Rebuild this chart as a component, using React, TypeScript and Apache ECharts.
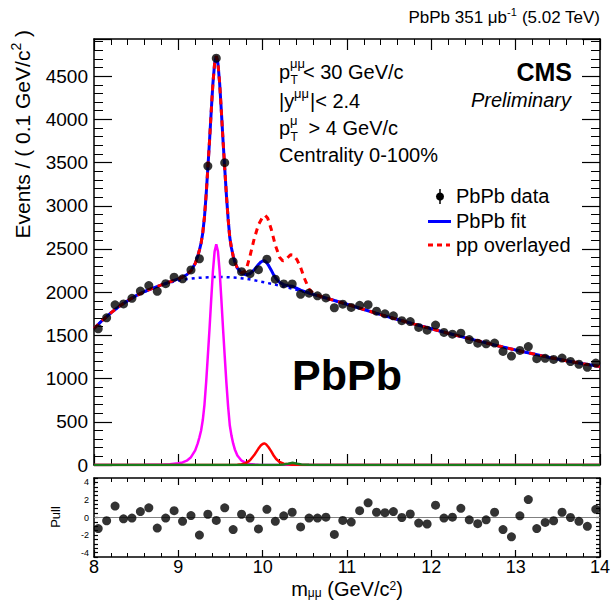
import React, { useEffect, useRef } from "react";
import * as echarts from "echarts";

// ---------------- data ----------------
const massBins = [
  8.05, 8.15, 8.25, 8.35, 8.45, 8.55, 8.65, 8.75, 8.85, 8.95,
  9.05, 9.15, 9.25, 9.35, 9.45, 9.55, 9.65, 9.75, 9.85, 9.95,
  10.05, 10.15, 10.25, 10.35, 10.45, 10.55, 10.65, 10.75, 10.85, 10.95,
  11.05, 11.15, 11.25, 11.35, 11.45, 11.55, 11.65, 11.75, 11.85, 11.95,
  12.05, 12.15, 12.25, 12.35, 12.45, 12.55, 12.65, 12.75, 12.85, 12.95,
  13.05, 13.15, 13.25, 13.35, 13.45, 13.55, 13.65, 13.75, 13.85, 13.95,
];

const dataCounts = [
  1577, 1703, 1854, 1864, 1929, 2013, 2077, 2010, 2099, 2174,
  2155, 2258, 2387, 3459, 4708, 3499, 2353, 2237, 2214, 2260,
  2382, 2150, 2096, 2096, 1975, 1988, 1958, 1934, 1820, 1861,
  1823, 1848, 1855, 1780, 1749, 1726, 1670, 1660, 1592, 1560,
  1619, 1534, 1514, 1526, 1452, 1410, 1403, 1411, 1314, 1261,
  1326, 1371, 1231, 1235, 1222, 1237, 1198, 1166, 1130, 1180,
];

const pullValues = [
  -1.26, -0.37, 1.3, -0.15, -0.07, 0.67, 1.1, -1.2, -0.07, 0.78,
  -0.44, 0.22, -2.0, 0.37, -0.33, 1.1, -1.37, 0.37, -0.07, -1.3,
  0.93, -0.44, 0.19, 0.6, -1.07, -0.07, -0.07, 0.04, -1.93, -0.33,
  -0.52, 0.78, 1.67, 0.6, 0.55, 0.67, 0.0, 0.4, -0.63, -0.74,
  1.4, -0.07, 0.04, 1.04, -0.26, -0.7, -0.26, 0.6, -1.37, -2.2,
  0.19, 2.04, -1.26, -0.56, -0.37, 0.6, 0.0, -0.44, -1.0, 0.93,
];

// PbPb fit (total)
const fitCurve: [number, number][] = [
  [8.0, 1580], [8.1, 1675], [8.2, 1761], [8.3, 1836], [8.4, 1902], [8.5, 1960],
  [8.6, 2008], [8.7, 2048], [8.8, 2084], [8.9, 2120], [9.0, 2155], [9.05, 2175],
  [9.1, 2202], [9.15, 2248], [9.2, 2333], [9.23, 2416], [9.25, 2487], [9.27, 2568],
  [9.29, 2689], [9.31, 2870], [9.33, 3131], [9.35, 3437], [9.37, 3753], [9.39, 4094],
  [9.41, 4415], [9.43, 4645], [9.45, 4731], [9.47, 4646], [9.49, 4416], [9.51, 4096],
  [9.53, 3755], [9.55, 3435], [9.57, 3124], [9.59, 2853], [9.61, 2632], [9.63, 2511],
  [9.65, 2420], [9.67, 2348], [9.7, 2279], [9.75, 2220], [9.8, 2202], [9.85, 2214],
  [9.9, 2259], [9.95, 2321], [9.98, 2350], [10.0, 2361], [10.02, 2364], [10.04, 2350],
  [10.07, 2309], [10.1, 2258], [10.13, 2201], [10.16, 2156], [10.2, 2114], [10.25, 2087],
  [10.3, 2074], [10.35, 2069], [10.4, 2047], [10.45, 2023], [10.5, 2006], [10.55, 1991],
  [10.6, 1975], [10.8, 1918], [11.0, 1860], [11.2, 1800], [11.4, 1740], [11.6, 1684],
  [11.8, 1630], [12.0, 1577], [12.2, 1524], [12.4, 1474], [12.6, 1425], [12.8, 1377],
  [13.0, 1330], [13.2, 1287], [13.4, 1245], [13.6, 1207], [13.8, 1172], [14.0, 1140],
];

// pp overlayed
const ppCurve: [number, number][] = [
  [8.0, 1580], [8.1, 1675], [8.2, 1761], [8.3, 1836], [8.4, 1902], [8.5, 1960],
  [8.6, 2008], [8.7, 2048], [8.8, 2084], [8.9, 2120], [9.0, 2155], [9.05, 2175],
  [9.1, 2202], [9.15, 2248], [9.2, 2333], [9.23, 2416], [9.25, 2487], [9.27, 2568],
  [9.29, 2689], [9.31, 2870], [9.33, 3131], [9.35, 3437], [9.37, 3753], [9.39, 4094],
  [9.41, 4415], [9.43, 4645], [9.45, 4731], [9.47, 4646], [9.49, 4416], [9.51, 4096],
  [9.53, 3755], [9.55, 3435], [9.57, 3124], [9.59, 2853], [9.61, 2632], [9.63, 2511],
  [9.65, 2420], [9.67, 2348], [9.7, 2279], [9.75, 2225], [9.8, 2245], [9.85, 2420],
  [9.9, 2620], [9.95, 2780], [10.0, 2870], [10.03, 2890], [10.06, 2855], [10.1, 2735],
  [10.15, 2545], [10.2, 2405], [10.24, 2362], [10.28, 2385], [10.33, 2432], [10.37, 2428],
  [10.41, 2370], [10.45, 2285], [10.5, 2150], [10.55, 2035], [10.6, 1985], [10.7, 1947],
  [10.8, 1918], [11.0, 1860], [11.2, 1800], [11.4, 1740], [11.6, 1684],
  [11.8, 1630], [12.0, 1577], [12.2, 1524], [12.4, 1474], [12.6, 1425], [12.8, 1377],
  [13.0, 1330], [13.2, 1287], [13.4, 1245], [13.6, 1207], [13.8, 1172], [14.0, 1140],
];

// background component
const bkgCurve: [number, number][] = [
  [8.0, 1580], [8.1, 1675], [8.2, 1760], [8.3, 1835], [8.4, 1900], [8.5, 1957],
  [8.6, 2005], [8.7, 2045], [8.8, 2080], [8.9, 2110], [9.0, 2135], [9.1, 2152],
  [9.2, 2163], [9.3, 2170], [9.4, 2175], [9.5, 2176], [9.6, 2172], [9.7, 2166],
  [9.8, 2155], [9.9, 2138], [10.0, 2118], [10.1, 2098], [10.2, 2076], [10.3, 2052],
  [10.4, 2028], [10.5, 2002], [10.6, 1975], [10.8, 1918], [11.0, 1860], [11.2, 1800],
  [11.4, 1740], [11.6, 1684], [11.8, 1630], [12.0, 1577], [12.2, 1524], [12.4, 1474],
  [12.6, 1425], [12.8, 1377], [13.0, 1330], [13.2, 1287], [13.4, 1245], [13.6, 1207],
  [13.8, 1172], [14.0, 1140],
];

// Upsilon(1S) component
const y1sCurve: [number, number][] = [
  [8.0, 0], [8.6, 2], [8.8, 4], [8.9, 10], [9.0, 20], [9.05, 30], [9.1, 50], [9.15, 90],
  [9.2, 170], [9.23, 250], [9.25, 320], [9.27, 400], [9.29, 520], [9.31, 700], [9.33, 960],
  [9.35, 1265], [9.37, 1580], [9.39, 1920], [9.41, 2240], [9.43, 2470], [9.45, 2555],
  [9.47, 2470], [9.49, 2240], [9.51, 1920], [9.53, 1580], [9.55, 1260], [9.57, 950],
  [9.59, 680], [9.61, 460], [9.63, 340], [9.65, 250], [9.67, 180], [9.7, 110], [9.75, 50],
  [9.8, 25], [9.85, 12], [9.9, 6], [9.95, 3], [10.1, 0], [14.0, 0],
];

// Upsilon(2S) component
const y2sCurve: [number, number][] = [
  [8.0, 0], [9.6, 0], [9.7, 3], [9.75, 9], [9.8, 22], [9.85, 55], [9.9, 115], [9.95, 190],
  [9.98, 228], [10.0, 243], [10.02, 250], [10.04, 240], [10.07, 205], [10.1, 160],
  [10.13, 110], [10.16, 70], [10.2, 35], [10.25, 16], [10.3, 8], [10.35, 4], [10.4, 2],
  [10.5, 0], [14.0, 0],
];

// Upsilon(3S) component
const y3sCurve: [number, number][] = [
  [8.0, 0], [10.1, 0], [10.2, 3], [10.25, 7], [10.3, 14], [10.33, 21], [10.355, 25],
  [10.38, 21], [10.41, 14], [10.46, 7], [10.55, 2], [10.7, 0], [14.0, 0],
];

const massRange = [8, 14];
const eventsRange = [0, 4930];
const pullRange = [-4.5, 4.5];

// ---------------- styling ----------------
const FF = '"Liberation Sans", Arial, Helvetica, sans-serif';
const BLACK = "#000000";

function frameAxis(extra: any) {
  return {
    type: "value",
    axisLine: { show: true, onZero: false, lineStyle: { color: BLACK, width: 1.5 } },
    splitLine: { show: false },
    minorSplitLine: { show: false },
    axisLabel: { show: false },
    ...extra,
  };
}

function tick(len: number) {
  return { show: true, inside: true, length: len, lineStyle: { color: BLACK, width: 1.2 } };
}
function minor(len: number, split: number) {
  return { show: true, splitNumber: split, length: len, lineStyle: { color: BLACK, width: 1 } };
}

function txt(x: number, y: number, text: string, size: number, extra: any = {}) {
  return {
    type: "text",
    x,
    y,
    silent: true,
    style: {
      text,
      fontSize: size,
      fontFamily: FF,
      fill: BLACK,
      align: "left",
      verticalAlign: "middle",
      ...extra,
    },
  };
}

function buildOption() {
  const data = massBins.map((m, i) => [m, dataCounts[i]]);
  const pulls = massBins.map((m, i) => [m, pullValues[i]]);

  const graphic: any[] = [
    // header
    {
      type: "text",
      x: 600,
      y: 17,
      silent: true,
      style: {
        text: "{a|PbPb 351 μb}{s|-1}{a| (5.02 TeV)}",
        align: "right",
        verticalAlign: "middle",
        rich: {
          a: { fontSize: 17, fontFamily: FF, fill: BLACK, lineHeight: 22 },
          s: { fontSize: 11, fontFamily: FF, fill: BLACK, verticalAlign: "top" },
        },
      },
    },
    // y title
    {
      type: "text",
      x: 22,
      y: 30,
      rotation: Math.PI / 2,
      silent: true,
      style: {
        text: "{a|Events / ( 0.1 GeV/c}{s|2}{a| )}",
        align: "right",
        verticalAlign: "middle",
        rich: {
          a: { fontSize: 21, fontFamily: FF, fill: BLACK, lineHeight: 27 },
          s: { fontSize: 14, fontFamily: FF, fill: BLACK, verticalAlign: "top" },
        },
      },
    },
    // x title
    {
      type: "text",
      x: 347,
      y: 589,
      silent: true,
      style: {
        text: "{a|m}{b|μμ}{a| (GeV/c}{s|2}{a|)}",
        align: "center",
        verticalAlign: "middle",
        rich: {
          a: { fontSize: 20, fontFamily: FF, fill: BLACK, lineHeight: 19 },
          b: { fontSize: 12, fontFamily: FF, fill: BLACK, verticalAlign: "bottom" },
          s: { fontSize: 12, fontFamily: FF, fill: BLACK, verticalAlign: "top" },
        },
      },
    },
    // Pull title
    {
      type: "text",
      x: 55,
      y: 517,
      rotation: Math.PI / 2,
      silent: true,
      style: { text: "Pull", fontSize: 13, fontFamily: FF, fill: BLACK, align: "center", verticalAlign: "middle" },
    },
    // kinematic cuts
    txt(279, 72, "p", 20),
    txt(290, 63, "μμ", 13),
    txt(290.5, 80, "T", 12),
    txt(303, 72, "< 30 GeV/c", 20),
    txt(279, 101, "|y", 20),
    txt(294, 93, "μμ", 13),
    txt(310, 101, "|< 2.4", 20),
    txt(279, 128, "p", 20),
    txt(290, 120, "μ", 13),
    txt(290.5, 137, "T", 12),
    txt(303, 128, " > 4 GeV/c", 20),
    txt(279, 155, "Centrality 0-100%", 20),
    // CMS labels
    txt(572, 72, "CMS", 25, { align: "right", fontWeight: "bold" }),
    txt(571, 100, "Preliminary", 20, { align: "right", fontStyle: "italic" }),
    // big PbPb
    txt(347, 375, "PbPb", 43, { align: "center", fontWeight: "bold" }),
    // legend
    {
      type: "line",
      silent: true,
      shape: { x1: 440, y1: 189, x2: 440, y2: 204 },
      style: { stroke: BLACK, lineWidth: 1.5 },
    },
    { type: "circle", silent: true, shape: { cx: 440, cy: 196.5, r: 4 }, style: { fill: BLACK } },
    txt(456, 196, "PbPb data", 20),
    {
      type: "line",
      silent: true,
      shape: { x1: 428, y1: 221.5, x2: 451, y2: 221.5 },
      style: { stroke: "#0000ff", lineWidth: 3 },
    },
    txt(456, 221, "PbPb fit", 20),
    {
      type: "line",
      silent: true,
      shape: { x1: 428, y1: 245, x2: 450, y2: 245 },
      style: { stroke: "#ff0000", lineWidth: 3, lineDash: [5, 4] },
    },
    txt(456, 245, "pp overlayed", 20),
  ];

  const labelStyle = { color: BLACK, fontFamily: FF };

  return {
    animation: false,
    backgroundColor: "#ffffff",
    grid: [
      { left: 94, top: 39, width: 506, height: 426, outerBoundsMode: "none", containLabel: false },
      { left: 94, top: 478, width: 506, height: 79, outerBoundsMode: "none", containLabel: false },
    ],
    xAxis: [
      frameAxis({ gridIndex: 0, min: massRange[0], max: massRange[1], interval: 1, position: "bottom", axisTick: tick(11), minorTick: minor(6, 5) }),
      frameAxis({ gridIndex: 0, min: massRange[0], max: massRange[1], interval: 1, position: "top", axisTick: tick(11), minorTick: minor(6, 5) }),
      frameAxis({
        gridIndex: 1, min: massRange[0], max: massRange[1], interval: 1, position: "bottom",
        axisTick: tick(7), minorTick: minor(4, 5),
        axisLabel: { show: true, fontSize: 18, margin: 1, ...labelStyle },
      }),
      frameAxis({ gridIndex: 1, min: massRange[0], max: massRange[1], interval: 1, position: "top", axisTick: tick(7), minorTick: minor(4, 5) }),
    ],
    yAxis: [
      frameAxis({
        gridIndex: 0, min: eventsRange[0], max: eventsRange[1], interval: 500, position: "left",
        axisTick: tick(18), minorTick: minor(9, 5),
        axisLabel: {
          show: true, fontSize: 19, margin: 6, ...labelStyle,
          formatter: (v: number) => (v % 500 === 0 && v <= 4500 ? String(v) : ""),
        },
      }),
      frameAxis({ gridIndex: 0, min: eventsRange[0], max: eventsRange[1], interval: 500, position: "right", axisTick: tick(18), minorTick: minor(9, 5) }),
      frameAxis({
        gridIndex: 1, min: pullRange[0], max: pullRange[1], interval: 0.5, position: "left",
        axisTick: tick(4),
        axisLabel: {
          show: true, fontSize: 9, margin: 5, ...labelStyle,
          formatter: (v: number) => {
            const r = Math.round(v);
            return Math.abs(v - r) < 1e-6 && r % 2 === 0 ? String(r) : "";
          },
        },
      }),
      frameAxis({ gridIndex: 1, min: pullRange[0], max: pullRange[1], interval: 0.5, position: "right", axisTick: tick(4) }),
    ],
    series: [
      {
        name: "background", type: "line", xAxisIndex: 0, yAxisIndex: 0, data: bkgCurve,
        showSymbol: false, symbol: "none", z: 3,
        lineStyle: { color: "#0000ff", width: 2.5, type: [3, 4] },
      },
      {
        name: "Y(1S)", type: "line", xAxisIndex: 0, yAxisIndex: 0, data: y1sCurve,
        symbol: "none", z: 3, lineStyle: { color: "#ff00ff", width: 2.5 },
      },
      {
        name: "Y(2S)", type: "line", xAxisIndex: 0, yAxisIndex: 0, data: y2sCurve,
        symbol: "none", z: 3, lineStyle: { color: "#ff0000", width: 2.5 },
      },
      {
        name: "Y(3S)", type: "line", xAxisIndex: 0, yAxisIndex: 0, data: y3sCurve,
        symbol: "none", z: 3, lineStyle: { color: "#1a7a1a", width: 2.5 },
      },
      {
        name: "PbPb fit", type: "line", xAxisIndex: 0, yAxisIndex: 0, data: fitCurve,
        symbol: "none", z: 4, lineStyle: { color: "#0000ff", width: 3 },
      },
      {
        name: "pp overlayed", type: "line", xAxisIndex: 0, yAxisIndex: 0, data: ppCurve,
        symbol: "none", z: 5, lineStyle: { color: "#ff0000", width: 3, type: [6, 5] },
      },
      {
        name: "PbPb data", type: "scatter", xAxisIndex: 0, yAxisIndex: 0, data,
        symbol: "circle", symbolSize: 9, z: 6, itemStyle: { color: BLACK },
      },
      {
        name: "zero", type: "line", xAxisIndex: 2, yAxisIndex: 2,
        data: [[massRange[0], 0], [massRange[1], 0]],
        symbol: "none", z: 3, lineStyle: { color: "#808080", width: 1 },
      },
      {
        name: "Pull", type: "scatter", xAxisIndex: 2, yAxisIndex: 2, data: pulls,
        symbol: "circle", symbolSize: 9, z: 6, itemStyle: { color: BLACK },
      },
    ],
    graphic,
  };
}

export default function App() {
  const ref = useRef<HTMLDivElement>(null);
  useEffect(() => {
    if (!ref.current) return;
    const chart = echarts.init(ref.current, null, { renderer: "svg" });
    chart.setOption(buildOption() as any);
    return () => chart.dispose();
  }, []);
  return (
    <div
      ref={ref}
      style={{ position: "absolute", left: 0, top: 0, width: 613, height: 600, background: "#fff" }}
    />
  );
}
